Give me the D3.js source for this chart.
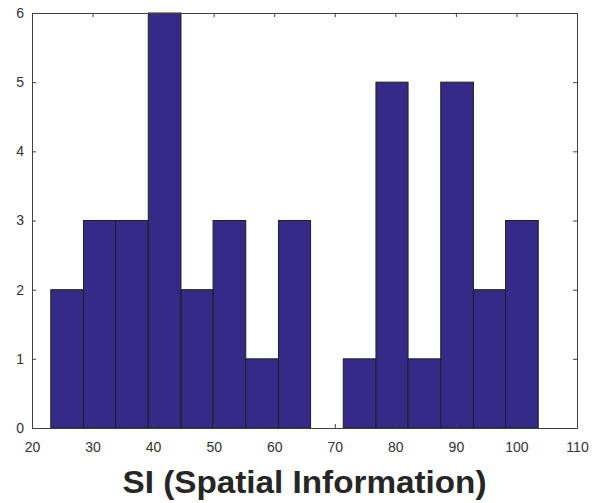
<!DOCTYPE html>
<html>
<head>
<meta charset="utf-8">
<script src="https://cdn.jsdelivr.net/npm/d3@7"></script>
<style>
  body { margin: 0; background: #fff; }
  .tick text { font-family: Arial, "Liberation Sans", sans-serif; font-size: 14px; fill: #333; }
  .axis path, .axis line { stroke: #404040; }
</style>
</head>
<body>
<div id="chart"></div>
<script>
// histogram bins
const binEdges = [23.1, 28.5, 33.8, 39.2, 44.6, 49.9, 55.3, 60.7, 66.0, 71.4, 76.8, 82.1, 87.5, 92.9, 98.2, 103.6];
const counts = [2, 3, 3, 6, 2, 3, 1, 3, 0, 1, 5, 1, 5, 2, 3];
const xTicks = [20, 30, 40, 50, 60, 70, 80, 90, 100, 110];
const yTicks = [0, 1, 2, 3, 4, 5, 6];
const xLabel = "SI (Spatial Information)";

const width = 600, height = 503;
const margin = { t: 13, l: 32, r: 23, b: 75 };

const svg = d3.select("#chart").append("svg")
  .attr("width", width)
  .attr("height", height);

const x = d3.scaleLinear().domain([20, 110]).range([margin.l, width - margin.r]);
const y = d3.scaleLinear().domain([0, 6]).range([height - margin.b, margin.t]);

const bins = counts.map((c, i) => ({ x0: binEdges[i], x1: binEdges[i + 1], n: c }));

svg.append("g")
  .selectAll("rect")
  .data(bins.filter(d => d.n > 0))
  .enter().append("rect")
  .attr("x", d => x(d.x0))
  .attr("y", d => y(d.n))
  .attr("width", d => x(d.x1) - x(d.x0))
  .attr("height", d => y(0) - y(d.n))
  .attr("fill", "#352a87")
  .attr("stroke", "#1f1f1f")
  .attr("stroke-width", 1);

// axes, ticks pointing inward like matlab
svg.append("g").attr("class", "axis")
  .attr("transform", "translate(0," + y(0) + ")")
  .call(d3.axisBottom(x).tickValues(xTicks).tickSizeInner(-4).tickSizeOuter(0).tickPadding(14));

svg.append("g").attr("class", "axis")
  .attr("transform", "translate(" + x(20) + ",0)")
  .call(d3.axisLeft(y).tickValues(yTicks).tickFormat(d3.format("d")).tickSizeInner(-4).tickSizeOuter(0).tickPadding(8));

svg.append("g").attr("class", "axis")
  .attr("transform", "translate(0," + y(6) + ")")
  .call(d3.axisTop(x).tickValues(xTicks).tickSizeInner(-4).tickSizeOuter(0).tickFormat(""));

svg.append("g").attr("class", "axis")
  .attr("transform", "translate(" + x(110) + ",0)")
  .call(d3.axisRight(y).tickValues(yTicks).tickSizeInner(-4).tickSizeOuter(0).tickFormat(""));

svg.append("text")
  .attr("x", (x(20) + x(110)) / 2)
  .attr("y", 493)
  .attr("text-anchor", "middle")
  .attr("font-family", "Arial, 'Liberation Sans', sans-serif")
  .attr("font-weight", "bold")
  .attr("font-size", 31)
  .attr("textLength", 364)
  .attr("lengthAdjust", "spacingAndGlyphs")
  .attr("fill", "#262626")
  .text(xLabel);
</script>
</body>
</html>
